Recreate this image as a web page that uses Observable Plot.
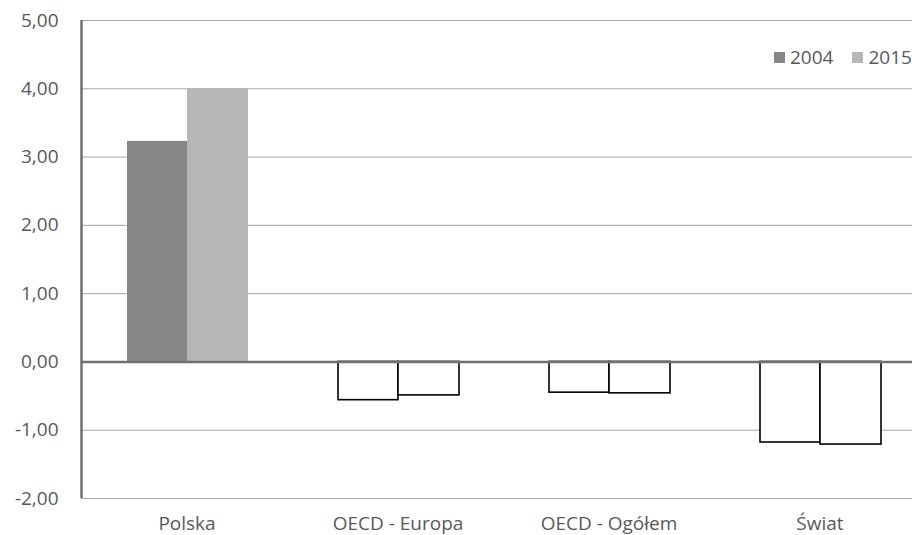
<!DOCTYPE html>
<html>
<head>
<meta charset="utf-8">
<script src="https://cdn.jsdelivr.net/npm/d3@7"></script>
<script src="https://cdn.jsdelivr.net/npm/@observablehq/plot@0.6"></script>
<style>
  html, body { margin: 0; padding: 0; background: #fff; overflow: hidden; }
  #wrap { position: relative; width: 912px; height: 535px; font-family: "Open Sans", sans-serif; overflow: hidden; }
  #legend { position: absolute; left: 774px; top: 44px; display: flex; align-items: center; font-size: 19px; color: #595959; white-space: nowrap; }
  #legend .sw { display: inline-block; width: 11px; height: 11px; margin-right: 5px; }
  #legend .item { display: flex; align-items: center; margin-right: 19px; }
</style>
</head>
<body>
<div id="wrap"></div>
<script>
const categories = ["Polska", "OECD - Europa", "OECD - Ogółem", "Świat"];
const years = ["2004", "2015"];
const values2004 = [3.23, -0.56, -0.45, -1.18];
const values2015 = [4.00, -0.49, -0.46, -1.21];
const yTicks = [-2, -1, 0, 1, 2, 3, 4, 5];
const yearColors = ["#878787", "#b7b7b7"];

const data = [];
categories.forEach((c, i) => {
  data.push({cat: c, year: years[0], value: values2004[i]});
  data.push({cat: c, year: years[1], value: values2015[i]});
});

const fmt = d => d.toFixed(2).replace(".", ",");

function barsFor(year, ci, insetL, insetR) {
  const rows = data.filter(d => d.year === year);
  return [
    Plot.barY(rows.filter(d => d.value >= 0), {x: "cat", y: "value", fill: yearColors[ci], insetLeft: insetL, insetRight: insetR}),
    Plot.barY(rows.filter(d => d.value < 0), {x: "cat", y: "value", fill: "#ffffff", stroke: "#000000", strokeWidth: 1.6, insetLeft: insetL, insetRight: insetR})
  ];
}

const chart = Plot.plot({
  width: 912,
  height: 535,
  marginLeft: 81,
  marginRight: -13,
  marginTop: 20,
  marginBottom: 37,
  style: {fontFamily: "'Open Sans', sans-serif", fontSize: "19px", color: "#595959", background: "#ffffff", overflow: "visible"},
  x: {domain: categories, padding: 0, label: null, tickSize: 0, tickPadding: 18},
  y: {domain: [-2, 5], ticks: yTicks, tickFormat: fmt, label: null, tickSize: 0, tickPadding: 23},
  marks: [
    Plot.ruleY(yTicks, {stroke: "#a6a6a6", strokeWidth: 1}),
    ...barsFor("2004", 0, 46, 105),
    ...barsFor("2015", 1, 106, 44),
    Plot.ruleY([0], {stroke: "#707070", strokeWidth: 2.5}),
    Plot.ruleX([categories[0]], {y1: -2, y2: 5, stroke: "#707070", strokeWidth: 2.5, dx: -105.5})
  ]
});

const wrap = document.getElementById("wrap");
wrap.appendChild(chart);

const legend = document.createElement("div");
legend.id = "legend";
years.forEach((y, i) => {
  const item = document.createElement("span");
  item.className = "item";
  const sw = document.createElement("span");
  sw.className = "sw";
  sw.style.background = yearColors[i];
  const t = document.createElement("span");
  t.textContent = y;
  item.appendChild(sw);
  item.appendChild(t);
  legend.appendChild(item);
});
wrap.appendChild(legend);
</script>
</body>
</html>
